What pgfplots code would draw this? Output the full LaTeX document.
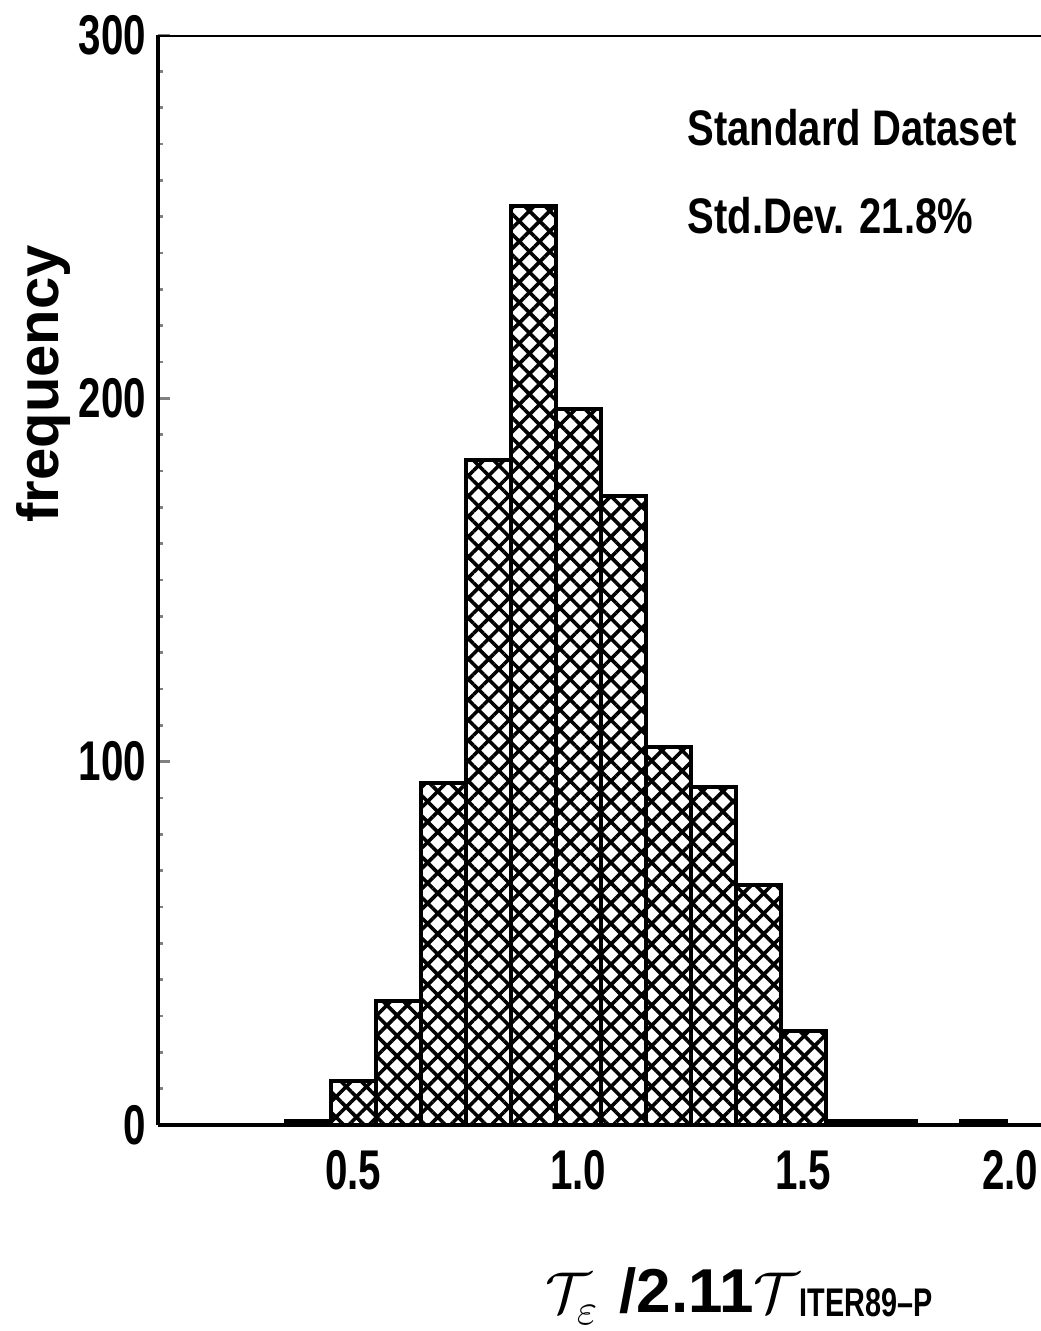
\documentclass[border=0pt]{standalone}
\usepackage{fontspec}
\setmainfont{Liberation Sans}
\newfontfamily\cond[FakeStretch=0.72]{Liberation Sans}
\newfontfamily\condb[FakeStretch=0.8]{Liberation Sans}
\usepackage{pgfplots}
\pgfplotsset{compat=1.18}
\usetikzlibrary{patterns.meta}
\begin{document}
\begin{tikzpicture}
\begin{axis}[
  at={(0,0)}, anchor=south west,
  scale only axis, width=220.75pt, height=272.5pt,
  xmin=0.066, xmax=2.028, ymin=0, ymax=300,
  axis x line=bottom, axis y line=left,
  axis line style={-, line width=0.8pt},
  xtick={0.5,1.0,1.5},
  xticklabels={0.5,1.0,1.5},
  extra x ticks={2.0},
  extra x tick labels={2.0},
  extra x tick style={xticklabel style={xshift=-4.5pt}},
  ytick={0,100,200,300},
  minor y tick num=9,
  tick align=inside,
  major tick length=3pt, minor tick length=1.2pt,
  xtick style={draw=none},
  ytick style={line width=0.6pt},
  /pgf/number format/assume math mode=true,
  tick label style={font=\cond\bfseries\fontsize{14}{14}\selectfont},
  xticklabel style={inner sep=0pt, yshift=-6.25pt},
  yticklabel style={inner sep=0pt, xshift=-2.75pt},
  ylabel={frequency},
  ylabel style={at={(axis description cs:-0.13,0.68)}, anchor=center, font=\bfseries\fontsize{14.5}{14.5}\selectfont},
  xlabel={$\mathcal{T}_{\raisebox{-1pt}{$\scriptstyle\varepsilon$}}$\hspace{5pt}{\bfseries /2.11}$\mathcal{T}$\raisebox{-1pt}{\cond\bfseries\fontsize{10}{10}\selectfont ITER89–P}},
  xlabel style={at={(axis description cs:0.438,-0.1716)}, anchor=base west, inner sep=0pt, font=\fontsize{15.5}{15.5}\selectfont},
]
\addplot[ybar, bar width=0.1, bar shift=0pt, draw=black, line width=1pt,
  pattern={Hatch[angle=45, distance=3.6pt, line width=0.9pt]}]
  coordinates {
  (0.4,1) (0.5,12) (0.6,34) (0.7,94) (0.8,183) (0.9,253) (1.0,197)
  (1.1,173) (1.2,104) (1.3,93) (1.4,66) (1.5,26) (1.6,1) (1.7,1) (1.9,1)
  };
\draw[line width=0.8pt] (rel axis cs:0,1) -- (rel axis cs:1,1);
\node[anchor=north west, inner sep=0pt, align=left,
  font=\condb\bfseries\fontsize{12.5}{22}\selectfont]
  at (rel axis cs:0.599,0.933) {Standard Dataset\\Std.Dev. 21.8\%};
\end{axis}
\pgfresetboundingbox
\path (-39.5pt,-51.5pt) rectangle (220.75pt,281.25pt);
\end{tikzpicture}
\end{document}
